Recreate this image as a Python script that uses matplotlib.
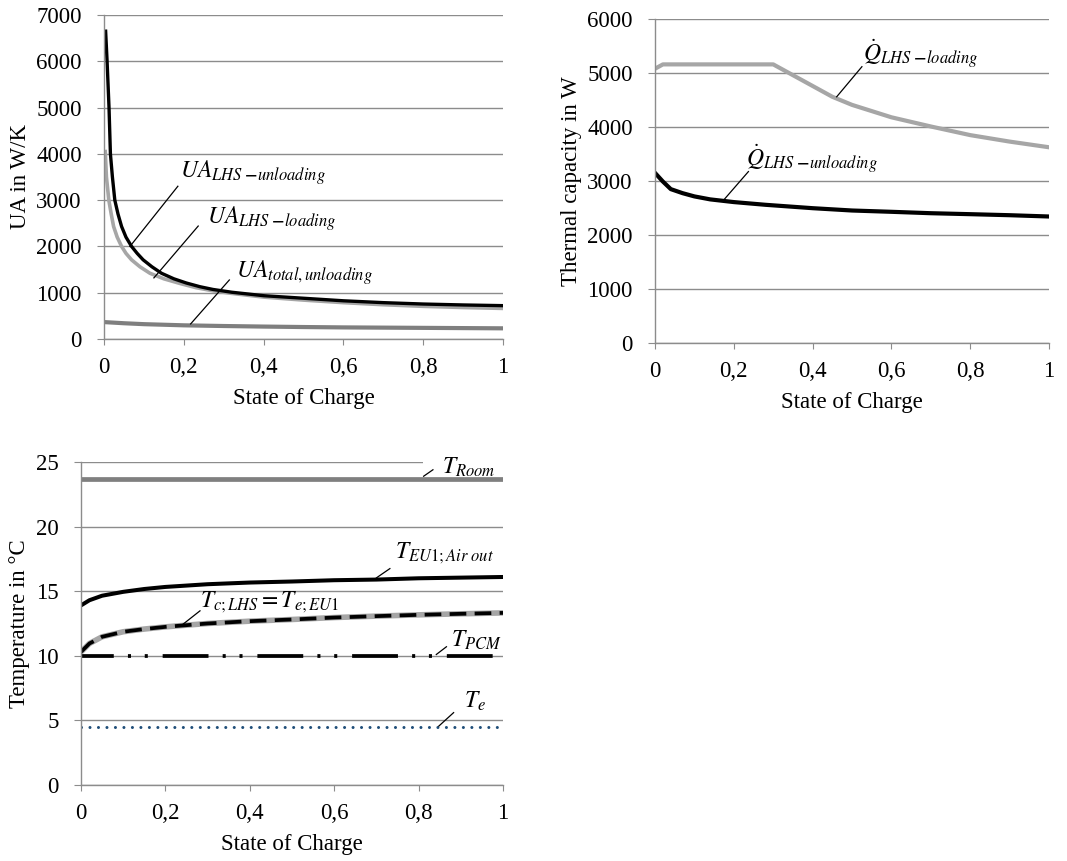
import matplotlib
matplotlib.use("Agg")
import matplotlib.pyplot as plt

plt.rcParams['font.family'] = ['Liberation Serif', 'DejaVu Serif']
plt.rcParams['mathtext.fontset'] = 'stix'
plt.rcParams['lines.scale_dashes'] = False

# --- data ---
soc_ticks = [0, 0.2, 0.4, 0.6, 0.8, 1.0]
soc_ticklabels = ['0', '0,2', '0,4', '0,6', '0,8', '1']

# UA chart (top left)
ua_unl_x = [0.004, 0.0075, 0.0125, 0.016, 0.021, 0.027, 0.035, 0.044, 0.055, 0.069, 0.083,
            0.098, 0.12, 0.144, 0.175, 0.206, 0.24, 0.273, 0.32, 0.4, 0.5, 0.6, 0.7, 0.8, 0.9, 1.0]
ua_unl_y = [6650, 6030, 5000, 4000, 3500, 3000, 2700, 2430, 2200, 2000, 1850,
            1710, 1560, 1420, 1300, 1210, 1130, 1070, 1010, 935, 880, 825, 785, 755, 735, 720]
ua_load_x = [0.003, 0.006, 0.012, 0.018, 0.024, 0.033, 0.044, 0.055, 0.069, 0.09, 0.115,
             0.15, 0.19, 0.23, 0.273, 0.32, 0.4, 0.5, 0.6, 0.7, 0.8, 0.9, 1.0]
ua_load_y = [4050, 3500, 3000, 2700, 2430, 2200, 2000, 1850, 1710, 1560, 1420,
             1300, 1200, 1110, 1040, 985, 905, 840, 785, 740, 705, 680, 660]
ua_tot_x = [0.0, 0.05, 0.1, 0.16, 0.2, 0.3, 0.4, 0.5, 0.6, 0.7, 0.8, 0.9, 1.0]
ua_tot_y = [365, 340, 320, 305, 295, 280, 268, 258, 250, 245, 240, 235, 230]

# thermal capacity chart (top right)
q_load_x = [0.0, 0.02, 0.1, 0.2, 0.3, 0.35, 0.4, 0.45, 0.5, 0.6, 0.7, 0.8, 0.9, 1.0]
q_load_y = [5080, 5160, 5160, 5160, 5160, 4960, 4760, 4560, 4410, 4180, 4010, 3850, 3730, 3625]
q_unl_x = [0.0, 0.02, 0.04, 0.07, 0.1, 0.14, 0.2, 0.28, 0.4, 0.5, 0.6, 0.7, 0.8, 0.9, 1.0]
q_unl_y = [3150, 2990, 2850, 2775, 2715, 2660, 2610, 2560, 2497, 2454, 2430, 2404, 2386, 2367, 2343]

# temperature chart (bottom)
t_x = [0.0, 0.02, 0.05, 0.1, 0.15, 0.2, 0.3, 0.4, 0.5, 0.6, 0.7, 0.8, 0.9, 1.0]
t_room = [23.7] * len(t_x)
t_eu1 = [13.9, 14.3, 14.65, 14.95, 15.17, 15.33, 15.54, 15.67, 15.75, 15.85, 15.9, 16.0, 16.05, 16.1]
t_c_lhs = [10.3, 10.95, 11.47, 11.86, 12.07, 12.24, 12.5, 12.68, 12.81, 12.96, 13.07, 13.17, 13.25, 13.32]
t_pcm = [10.0] * len(t_x)
t_e = [4.5] * len(t_x)

LIGHT = '#a6a6a6'
DARK = '#7f7f7f'
GRID = '#8c8c8c'
TXT = 16.5
MATH = 17


def style_axes(ax, ymax, ystep):
    ax.set_xlim(0, 1)
    ax.set_ylim(0, ymax)
    ax.set_xticks(soc_ticks)
    ax.set_xticklabels(soc_ticklabels)
    ax.set_yticks(range(0, ymax + 1, ystep))
    ax.set_axisbelow(True)
    ax.yaxis.grid(True, color=GRID, lw=1.0)
    for s in ['top', 'right']:
        ax.spines[s].set_visible(False)
    for s in ['left', 'bottom']:
        ax.spines[s].set_color(GRID)
        ax.spines[s].set_linewidth(1.0)
    ax.tick_params(axis='x', direction='out', length=4, color=GRID, pad=9, labelsize=TXT)
    ax.tick_params(axis='y', direction='out', length=5, color=GRID, pad=11, labelsize=TXT)
    ax.set_xlabel('State of Charge', fontsize=TXT, labelpad=7)


def note(ax, p0, p1, txt, tpos, **kw):
    ax.plot([p0[0], p1[0]], [p0[1], p1[1]], color='black', lw=0.9, zorder=4)
    ax.text(tpos[0], tpos[1], txt, fontsize=MATH, va='center', ha='left', **kw)


fig = plt.figure(figsize=(10.67, 8.61), dpi=100)

# top left
ax1 = fig.add_axes([0.0975, 0.6063, 0.374, 0.3763])
style_axes(ax1, 7000, 1000)
ax1.plot(ua_tot_x, ua_tot_y, color=DARK, lw=3.0)
ax1.plot(ua_load_x, ua_load_y, color=LIGHT, lw=2.6)
ax1.plot(ua_unl_x, ua_unl_y, color='black', lw=2.4)
ax1.set_ylabel('UA in W/K', fontsize=TXT, labelpad=4)
note(ax1, (0.065, 2000), (0.185, 3300), r'$UA_{LHS\ \mathbf{-}unloading}$', (0.19, 3600))
note(ax1, (0.125, 1320), (0.236, 2440), r'$UA_{LHS\ \mathbf{-}loading}$', (0.259, 2610))
note(ax1, (0.217, 325), (0.314, 1275), r'$UA_{total,unloading}$', (0.33, 1425))

# top right
ax2 = fig.add_axes([0.6139, 0.6016, 0.3693, 0.3763])
style_axes(ax2, 6000, 1000)
ax2.plot(q_load_x, q_load_y, color=LIGHT, lw=3.0)
ax2.plot(q_unl_x, q_unl_y, color='black', lw=3.0)
ax2.set_ylabel('Thermal capacity in W', fontsize=TXT, labelpad=3.5)
note(ax2, (0.461, 4560), (0.525, 5117), r'$\dot{Q}_{LHS\ \mathbf{-}loading}$', (0.529, 5364))
note(ax2, (0.176, 2663), (0.237, 3175), r'$\dot{Q}_{LHS\ \mathbf{-}unloading}$', (0.231, 3420))

# bottom
ax3 = fig.add_axes([0.0759, 0.0883, 0.3955, 0.3751])
style_axes(ax3, 25, 5)
ax3.plot(t_x, t_room, color=DARK, lw=3.4)
ax3.plot(t_x, t_eu1, color='black', lw=2.9)
ax3.plot(t_x, t_c_lhs, color=LIGHT, lw=4.0)
ax3.plot(t_x, t_c_lhs, color='black', lw=2.7, linestyle=(0, (12, 6)))
ax3.plot(t_x, t_pcm, color='black', lw=2.7,
         linestyle=(9.4, (33, 10.2, 2.2, 9.9, 2.2, 10.7)))
ax3.plot(t_x, t_e, color='#1f4e79', lw=2.2, linestyle=(0, (0.01, 6.1)),
         dash_capstyle='round')
ax3.set_ylabel('Temperature in °C', fontsize=TXT, labelpad=4)
note(ax3, (0.812, 23.9), (0.834, 24.4), r'$T_{Room}$', (0.855, 24.6),
     bbox=dict(boxstyle='square,pad=0.8', fc='white', ec='none'), zorder=1)
note(ax3, (0.700, 16.03), (0.732, 16.75), r'$T_{EU1;Air\ out}$', (0.744, 17.96))
note(ax3, (0.242, 12.45), (0.282, 13.48), r'$T_{c;LHS}=T_{e;EU1}$', (0.282, 14.12))
note(ax3, (0.842, 10.1), (0.866, 10.7), r'$T_{PCM}$', (0.878, 11.2))
note(ax3, (0.848, 4.56), (0.883, 5.6), r'$T_e$', (0.907, 6.44))

fig.savefig('out.png', dpi=100)
